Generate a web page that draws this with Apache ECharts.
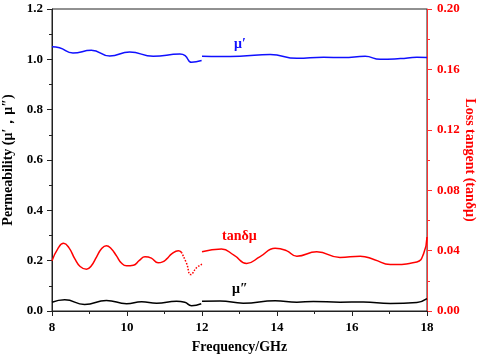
<!DOCTYPE html>
<html>
<head>
<meta charset="utf-8">
<script src="https://cdn.jsdelivr.net/npm/echarts@6/dist/echarts.min.js"></script>
<style>
html,body{margin:0;padding:0;background:#fff;}
#chart{width:480px;height:360px;}
</style>
</head>
<body>
<div id="chart"></div>
<script>
// mu' (real part) , left axis
var muRealFreqA = [8.0, 8.2, 8.56, 9.05, 9.54, 10.07, 10.7, 11.41, 11.55, 11.72, 11.99];
var muRealValA  = [1.050, 1.046, 1.025, 1.036, 1.013, 1.029, 1.012, 1.021, 1.015, 0.988, 0.995];
var muRealFreqB = [12.0, 12.5, 13.01, 13.82, 14.53, 15.24, 15.77, 16.35, 16.75, 17.29, 17.73, 18.0];
var muRealValB  = [1.012, 1.011, 1.012, 1.019, 1.004, 1.008, 1.007, 1.012, 1.000, 1.003, 1.008, 1.007];

// mu'' (imaginary part) , left axis
var muImagFreqA = [8.0, 8.34, 8.87, 9.45, 9.99, 10.39, 10.79, 11.32, 11.54, 11.72, 11.98];
var muImagValA  = [0.035, 0.045, 0.026, 0.042, 0.029, 0.037, 0.031, 0.039, 0.035, 0.021, 0.029];
var muImagFreqB = [12.0, 12.48, 13.1, 13.95, 14.53, 14.97, 15.68, 16.3, 17.02, 17.73, 18.0];
var muImagValB  = [0.039, 0.040, 0.031, 0.041, 0.035, 0.038, 0.035, 0.036, 0.030, 0.034, 0.049];

// tan delta mu , right axis
var tanFreqA = [8.0, 8.15, 8.31, 8.45, 8.61, 8.75, 8.92, 9.05, 9.19, 9.32, 9.45, 9.58, 9.72, 9.85, 9.99,
	10.17, 10.33, 10.48, 10.65, 10.83, 10.95, 11.06, 11.2, 11.37, 11.45];
var tanValA  = [0.0332, 0.0410, 0.0448, 0.0420, 0.0345, 0.0295, 0.0277, 0.0300, 0.0359, 0.0412, 0.0432, 0.0412, 0.0365, 0.0318, 0.0299,
	0.0303, 0.0335, 0.0359, 0.0350, 0.0319, 0.0325, 0.0345, 0.0380, 0.0399, 0.0390];
var tanFreqDot = [11.45, 11.59, 11.70, 11.86, 12.0];
var tanValDot  = [0.0390, 0.0315, 0.0241, 0.0288, 0.0310];
var tanFreqB = [12.0, 12.52, 12.85, 13.19, 13.55, 13.95, 14.25, 14.53, 15.06, 15.68, 16.22, 16.6, 17.02, 17.73, 17.91, 18.0];
var tanValB  = [0.0392, 0.0410, 0.0370, 0.0315, 0.0360, 0.0415, 0.0400, 0.0363, 0.0392, 0.0355, 0.0363, 0.0340, 0.0308, 0.0325, 0.0380, 0.0490];

var xTicks = [8, 18, 2];
var leftTicks = [0, 1.2, 0.2];
var rightTicks = [0, 0.2, 0.04];

var FONT = "'Times New Roman', 'Liberation Serif', serif";

function pairs(f, v){
	var out = [];
	for(var i=0;i<f.length;i++){
		out.push([f[i], v[i]]);
	}
	return out;
}

function lineSeries(data, color, axis, width, type){
	return {
		type: 'line',
		yAxisIndex: axis,
		data: data,
		smooth: 0.5,
		showSymbol: false,
		symbol: 'none',
		silent: true,
		animation: false,
		lineStyle: { color: color, width: width, type: type || 'solid' }
	};
}

var dom = document.getElementById('chart');
var myChart = echarts.init(dom);
var option = {
	backgroundColor: '#fff',
	animation: false,
	grid: {
		left: 52, right: 53, top: 9, bottom: 49,
		outerBoundsMode: 'none',
		containLabel: false,
		show: true, borderColor: '#222', borderWidth: 1
	},
	xAxis: {
		type: 'value',
		min: xTicks[0], max: xTicks[1], interval: xTicks[2],
		name: 'Frequency/GHz',
		nameLocation: 'middle',
		nameGap: 29,
		nameTextStyle: { fontFamily: FONT, fontWeight: 'bold', fontSize: 14, color: '#000' },
		axisLine: { show: true, lineStyle: { color: '#222', width: 1 } },
		axisTick: { show: true, inside: false, length: 5, lineStyle: { color: '#222' } },
		minorTick: { show: true, splitNumber: 2, length: 3, lineStyle: { color: '#222' } },
		axisLabel: { fontFamily: FONT, fontWeight: 'bold', fontSize: 13, color: '#000', margin: 10 },
		splitLine: { show: false }
	},
	yAxis: [
		{
			type: 'value',
			position: 'left',
			min: leftTicks[0], max: leftTicks[1], interval: leftTicks[2],
			name: 'Permeability (μ′，μ″)',
			nameLocation: 'middle',
			nameGap: 37,
			nameTextStyle: { fontFamily: FONT, fontWeight: 'bold', fontSize: 14, color: '#000' },
			axisLine: { show: true, lineStyle: { color: '#222', width: 1 } },
			axisTick: { show: true, inside: false, length: 5, lineStyle: { color: '#222' } },
			minorTick: { show: true, splitNumber: 2, length: 3, lineStyle: { color: '#222' } },
			axisLabel: {
				fontFamily: FONT, fontWeight: 'bold', fontSize: 13, color: '#000', margin: 9,
				formatter: function(v){ return v.toFixed(1); }
			},
			splitLine: { show: false }
		},
		{
			type: 'value',
			position: 'right',
			min: rightTicks[0], max: rightTicks[1], interval: rightTicks[2],
			axisLine: { show: true, lineStyle: { color: '#ff3030', width: 1 } },
			axisTick: { show: true, inside: false, length: 5, lineStyle: { color: '#ff3030' } },
			minorTick: { show: true, splitNumber: 2, length: 3, lineStyle: { color: '#ff3030' } },
			axisLabel: {
				fontFamily: FONT, fontWeight: 'bold', fontSize: 13, color: '#ff0000', margin: 10,
				formatter: function(v){ return v.toFixed(2); }
			},
			splitLine: { show: false }
		}
	],
	series: [
		lineSeries(pairs(muRealFreqA, muRealValA), '#1010ff', 0, 1.5),
		lineSeries(pairs(muRealFreqB, muRealValB), '#1010ff', 0, 1.5),
		lineSeries(pairs(muImagFreqA, muImagValA), '#000', 0, 1.5),
		lineSeries(pairs(muImagFreqB, muImagValB), '#000', 0, 1.5),
		lineSeries(pairs(tanFreqA, tanValA), '#ff0000', 1, 1.5),
		lineSeries(pairs(tanFreqDot, tanValDot), '#ff0000', 1, 1.5, 'dotted'),
		lineSeries(pairs(tanFreqB, tanValB), '#ff0000', 1, 1.5)
	],
	graphic: [
		{ type: 'text', left: 234, top: 37, style: { text: 'μ′', fill: '#1010ff', font: 'bold 14px ' + FONT } },
		{ type: 'text', left: 222, top: 229, style: { text: 'tanδμ', fill: '#ff0000', font: 'bold 14px ' + FONT } },
		{ type: 'text', left: 232, top: 282, style: { text: 'μ″', fill: '#000', font: 'bold 14px ' + FONT } },
		// right axis title, reads top to bottom
		{
			type: 'text', x: 470, y: 160, rotation: -Math.PI / 2,
			style: { text: 'Loss tangent (tanδμ)', fill: '#ff0000', font: 'bold 14px ' + FONT, align: 'center', verticalAlign: 'middle' }
		}
	]
};
myChart.setOption(option, true);
</script>
</body>
</html>
